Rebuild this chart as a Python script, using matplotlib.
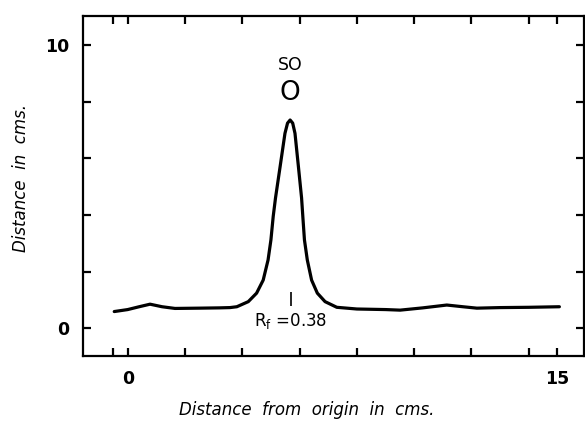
import matplotlib
matplotlib.use('Agg')
import matplotlib.pyplot as plt

# chromatogram trace (cm along strip, cm deflection)
trace_x = [-0.47, 0.0, 0.4, 0.78, 1.2, 1.65, 2.5, 3.2, 3.57, 3.81, 4.21, 4.50,
           4.73, 4.90, 5.00, 5.08, 5.16, 5.32, 5.49, 5.58, 5.67, 5.76, 5.84,
           5.96, 6.07, 6.12, 6.17, 6.27, 6.42, 6.62, 6.89, 7.30, 8.0, 9.0,
           9.51, 10.3, 11.14, 11.7, 12.19, 13.0, 14.0, 15.07]
trace_y = [0.59, 0.66, 0.76, 0.85, 0.76, 0.70, 0.71, 0.72, 0.73, 0.76, 0.94, 1.24,
           1.70, 2.41, 3.12, 3.95, 4.60, 5.70, 6.88, 7.24, 7.35, 7.24, 6.88,
           5.70, 4.60, 3.85, 3.12, 2.41, 1.70, 1.24, 0.94, 0.74, 0.68, 0.66,
           0.64, 0.72, 0.82, 0.76, 0.71, 0.73, 0.74, 0.76]

x_ticks = [-0.5, 0, 2, 4, 6, 8, 10, 12, 14, 15]
y_ticks = [0, 2, 4, 6, 8, 10]
x_labels = {0: '0', 15: '15'}
y_labels = {0: '0', 10: '10'}

rf_x = 5.69
rf_text = r'R$_{\mathregular{f}}$ =0.38'

fig = plt.figure(figsize=(5.85, 4.3), dpi=100)
ax = fig.add_axes([0.1424, 0.172, 0.8564, 0.7914])

ax.plot(trace_x, trace_y, color='black', lw=2.3, solid_capstyle='round',
        solid_joinstyle='round')

ax.set_xlim(-1.55, 15.94)
ax.set_ylim(-0.98, 11.03)

ax.set_xticks(x_ticks)
ax.set_xticklabels([x_labels.get(t, '') for t in x_ticks])
ax.set_yticks(y_ticks)
ax.set_yticklabels([y_labels.get(t, '') for t in y_ticks])
ax.tick_params(direction='in', length=6, width=1.6, top=True, right=True,
               labelsize=12.5, pad=10)
for lab in ax.get_xticklabels() + ax.get_yticklabels():
    lab.set_fontweight('bold')

for s in ax.spines.values():
    s.set_linewidth(1.6)

# Rf marker and peak labels
ax.vlines(rf_x, 0.79, 1.28, color='black', lw=1.2)
ax.text(rf_x, 0.27, rf_text, ha='center', va='center', fontsize=12)
ax.text(5.67, 9.3, 'SO', ha='center', va='center', fontsize=12.5)
ax.text(5.67, 8.32, 'O', ha='center', va='center', fontsize=19)

fig.text(306.7 / 585, 1 - 410 / 430, 'Distance  from  origin  in  cms.',
         ha='center', va='center', fontsize=12, style='italic')
fig.text(21 / 585, 1 - 178 / 430, 'Distance  in  cms.', ha='center',
         va='center', rotation=90, fontsize=12, style='italic')

fig.savefig('out.png', dpi=100)
